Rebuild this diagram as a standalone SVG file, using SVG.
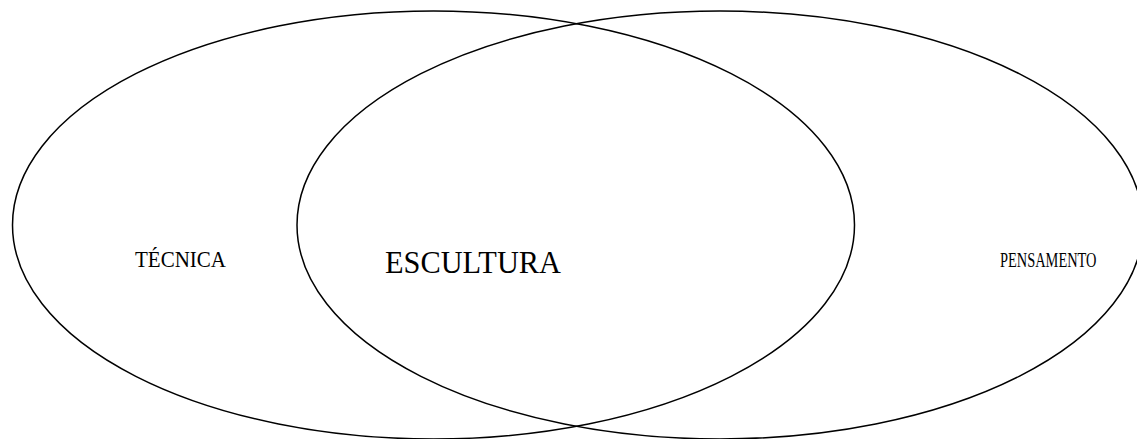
<svg xmlns="http://www.w3.org/2000/svg" width="1137" height="439" viewBox="0 0 1137 439">
<style>
.c{fill:none;stroke:#000;stroke-width:1.5}
.t{font-family:"Liberation Serif","Times New Roman",serif;fill:#000}
</style>
<rect width="1137" height="439" fill="#fff"/>
<g id="left"><ellipse class="c" cx="433.5" cy="225" rx="421" ry="214"/><text class="t" x="135" y="267" font-size="23" textLength="91" lengthAdjust="spacingAndGlyphs">TÉCNICA</text></g>
<g id="right"><ellipse class="c" cx="720" cy="225" rx="423" ry="214"/><text class="t" transform="translate(1000 267) scale(0.655 1)" x="0" y="0" font-size="22">PENSAMENTO</text></g>
<g id="center"><text class="t" x="385" y="273" font-size="32" textLength="176" lengthAdjust="spacingAndGlyphs">ESCULTURA</text></g>
</svg>
